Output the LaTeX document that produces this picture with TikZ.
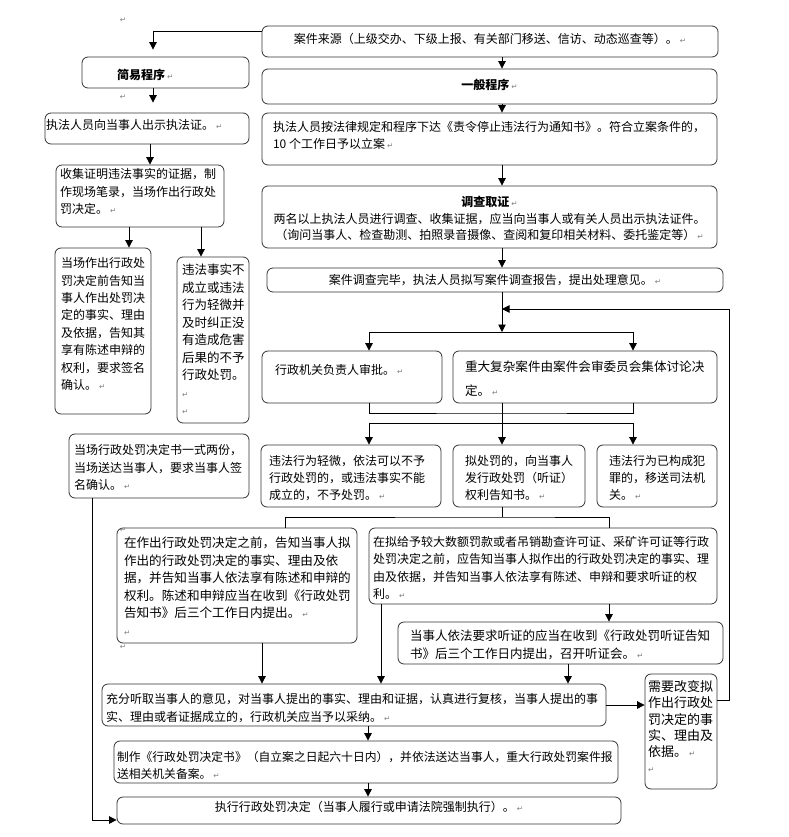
\documentclass[tikz,border=0pt]{standalone}
\usepackage{fontspec}
\setmainfont{Noto Sans CJK SC}
\newfontfamily\djv{DejaVu Sans}
\usetikzlibrary{arrows.meta}
\newcommand\rt{\hspace{2pt}{\djv\color{black!50}\fontsize{7.5}{7.5}\selectfont ↵}}
\newcommand\fs[2]{\fontsize{#1pt}{#2pt}\selectfont}
\tikzset{
 box/.style={draw=black!80, line width=0.8pt, rounded corners=6pt, inner sep=0pt, fill=white},
 conn/.style={draw=black, line width=0.8pt},
 arr/.style={conn, -{Triangle[length=7.5pt,width=7.5pt]}},
 rmark/.style={inner sep=0pt}
}
% name, x1, y1, x2, y2, left pad, first-line centre y, text
\newcommand\bx[8]{%
 \pgfmathsetmacro\bw{#4-#2}%
 \pgfmathsetmacro\bh{#5-#3}%
 \pgfmathsetmacro\toppad{#7-#3+7.6}%
 \node[box, minimum width=\bw pt, minimum height=\bh pt] (#1) at ({(#2+#4)/2},{(#3+#5)/2})
 {\parbox[c][\bh pt][t]{\bw pt}{\fs{12}{17.5}\leftskip=#6pt\relax\rule[-3pt]{0pt}{\toppad pt}#8\par}};%
}
\begin{document}
\begin{tikzpicture}[x=1pt,y=-1pt]
\useasboundingbox (0,0) rectangle (788,837);
% right column
\bx{src}{262}{26}{718}{57}{0}{39}{\centering 案件来源（上级交办、下级上报、有关部门移送、信访、动态巡查等）。\rt}
\bx{yb}{262}{69}{717}{104}{0}{85}{\centering\textbf{一般程序}\rt}
\bx{lian}{262}{113}{717}{165}{11}{127}{\fs{12}{16.5}执法人员按法律规定和程序下达《责令停止违法行为通知书》。符合立案条件的，\\10 个工作日予以立案\rt}
\bx{dc}{262}{186}{717}{248}{0}{202}{\centering\fs{12}{16.5}\textbf{调查取证}\rt\\两名以上执法人员进行调查、收集证据，应当向当事人或有关人员出示执法证件。\\（询问当事人、检查勘测、拍照录音摄像、查阅和复印相关材料、委托鉴定等）\rt}
\bx{wb}{267}{268}{723}{292}{0}{280}{\centering 案件调查完毕，执法人员拟写案件调查报告，提出处理意见。\rt}
\bx{sp}{262}{351}{442}{403}{13}{370}{行政机关负责人审批。\rt}
\bx{zd}{453}{351}{717}{403}{12}{367}{\fs{12.6}{24.3}重大复杂案件由案件会审委员会集体讨论决\\定。\rt}
\bx{qw}{261}{445}{441}{507}{8}{461}{\fs{12}{16.7}违法行为轻微，依法可以不予\\行政处罚的，或违法事实不能\\成立的，不予处罚。\rt}
\bx{ncf}{453}{445}{585}{507}{12}{461}{\fs{12}{16.7}拟处罚的，向当事人\\发行政处罚（听证）\\权利告知书。\rt}
\bx{fz}{597}{445}{717}{507}{12}{461}{\fs{12}{16.7}违法行为已构成犯\\罪的，移送司法机\\关。\rt}
\bx{zc}{117}{528}{357}{643}{7}{543}{\fs{12.6}{17.5}在作出行政处罚决定之前，告知当事人拟\\作出的行政处罚决定的事实、理由及依\\据，并告知当事人依法享有陈述和申辩的\\权利。陈述和申辩应当在收到《行政处罚\\告知书》后三个工作日内提出。\rt\\\rt}
\bx{nj}{369}{528}{717}{604}{4}{542}{\fs{12}{17.3}在拟给予较大数额罚款或者吊销勘查许可证、采矿许可证等行政\\处罚决定之前，应告知当事人拟作出的行政处罚决定的事实、理\\由及依据，并告知当事人依法享有陈述、申辩和要求听证的权\\利。\rt}
\bx{tz}{398}{622}{723}{664}{12}{636}{\fs{12.5}{17.7}当事人依法要求听证的应当在收到《行政处罚听证告知\\书》后三个工作日内提出，召开听证会。\rt}
\bx{cf}{102}{684}{606}{726}{4}{699}{充分听取当事人的意见，对当事人提出的事实、理由和证据，认真进行复核，当事人提出的事\\实、理由或者证据成立的，行政机关应当予以采纳。\rt}
\bx{gb}{645}{674}{717}{789}{3}{687}{\fs{13}{16.2}需要改变拟\\作出行政处\\罚决定的事\\实、理由及\\依据。\rt\\\rt}
\bx{zz}{114}{741}{618}{783}{3}{757}{\fs{11.8}{16.7}制作《行政处罚决定书》（自立案之日起六十日内），并依法送达当事人，重大行政处罚案件报\\送相关机关备案。\rt}
\bx{zx}{117}{797}{621}{824}{0}{807}{\centering 执行行政处罚决定（当事人履行或申请法院强制执行）。\rt}
% left column
\bx{jy}{82}{57}{249}{88}{35}{75}{\textbf{简易程序}\rt}
\bx{zf1}{45}{113}{249}{144}{1}{125}{执法人员向当事人出示执法证。\rt}
\bx{sj}{56}{165}{224}{227}{4}{174}{收集证明违法事实的证据，制\\作现场笔录，当场作出行政处\\罚决定。\rt}
\bx{dc1}{55}{248}{151}{414}{6}{263}{\fs{12}{17.4}当场作出行政处\\罚决定前告知当\\事人作出处罚决\\定的事实、理由\\及依据，告知其\\享有陈述申辩的\\权利，要求签名\\确认。\rt}
\bx{bcl}{177}{257}{249}{423}{5}{270}{\fs{12.5}{17.5}违法事实不\\成立或违法\\行为轻微并\\及时纠正没\\有造成危害\\后果的不予\\行政处罚。\rt\\\rt}
\bx{dcs}{69}{434}{249}{498}{5}{450}{当场行政处罚决定书一式两份，\\当场送达当事人，要求当事人签\\名确认。\rt}
% stray paragraph marks
\node[rmark] (m1) at (122,20) {\rt};
\node[rmark] (m2) at (122,97) {\rt};
\node[rmark] (m3) at (122,530) {\rt};
\node[rmark] (m4) at (122,647) {\rt};
% helper coordinates
\coordinate (spine) at (502,0);
\coordinate (xl1) at (153,0);
\coordinate (xl2) at (150,0);
\coordinate (xl3) at (129,0);
\coordinate (xl4) at (201,0);
\coordinate (xl5) at (92,0);
\coordinate (xa) at (369,0);
\coordinate (xb) at (633,0);
\coordinate (xc) at (285,0);
\coordinate (xd) at (609,0);
\coordinate (xe) at (262,0);
\coordinate (xf) at (381,0);
\coordinate (xg) at (568,0);
\coordinate (xh) at (368,0);
\coordinate (j1) at (502,332);
\coordinate (j2) at (502,413);
\coordinate (j3) at (502,423);
\coordinate (j4) at (502,517);
\coordinate (fb) at (502,309);
\coordinate (fbr) at (729,309);
% connectors
\draw[arr, shorten >=7pt] ([yshift=9.8pt]src.west) -| (jy.north -| xl1);
\draw[arr, shorten >=10pt] (jy.south -| xl1) -- (zf1.north -| xl1);
\draw[arr] (src.south -| spine) -- (yb.north -| spine);
\draw[arr] (yb.south -| spine) -- (lian.north -| spine);
\draw[arr] (lian.south -| spine) -- (dc.north -| spine);
\draw[arr] (dc.south -| spine) -- (wb.north -| spine);
\draw[arr] (wb.south -| spine) -- (j1);
\draw[arr] (j1) -| (sp.north -| xa);
\draw[arr] (j1) -| (zd.north -| xb);
\draw[conn] (sp.south -| xa) |- (j2) -| (zd.south -| xb);
\draw[arr] (zd.south -| spine) -- (ncf.north -| spine);
\draw[arr] (j3) -| (qw.north -| xa);
\draw[arr] (j3) -| (fz.north -| xb);
\draw[conn] (ncf.south -| spine) -- (j4);
\draw[conn] (zc.north -| xc) |- (j4) -| (nj.north -| xd);
\draw[arr] (nj.south -| xd) -- (tz.north -| xd);
\draw[arr] (zc.south -| xe) -- (cf.north -| xe);
\draw[arr] (nj.south -| xf) -- (cf.north -| xf);
\draw[arr] (tz.south -| xg) -- (cf.north -| xg);
\draw[arr] (cf.east) -- (cf.east -| gb.west);
\draw[arr] ([yshift=31.5pt]gb.east) -| (fbr) -- (fb);
\draw[arr] (cf.south -| xh) -- (zz.north -| xh);
\draw[arr] (zz.south -| xh) -- (zx.north -| xh);
\draw[arr] (zf1.south -| xl2) -- (sj.north -| xl2);
\draw[arr] (sj.south -| xl3) -- (dc1.north -| xl3);
\draw[arr] (sj.south -| xl4) -- (bcl.north -| xl4);
\draw[arr] (dcs.south -| xl5) |- ([yshift=-9.5pt]zx.west);
\end{tikzpicture}
\end{document}
